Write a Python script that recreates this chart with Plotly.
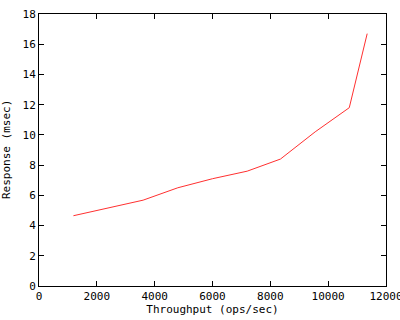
import plotly.graph_objects as go

throughput = [1190, 3600, 4800, 6000, 7200, 8350, 9550, 10730, 11350]
response = [4.65, 5.68, 6.5, 7.1, 7.6, 8.4, 10.2, 11.8, 16.7]

x_ticks = [0, 2000, 4000, 6000, 8000, 10000, 12000]
y_ticks = [0, 2, 4, 6, 8, 10, 12, 14, 16, 18]

font = dict(family="DejaVu Sans Mono, Liberation Mono, monospace", size=11, color="black")

fig = go.Figure()
fig.add_trace(go.Scatter(x=throughput, y=response, mode="lines",
                         line=dict(color="#ff3030", width=1), showlegend=False))

axis_common = dict(showline=True, linecolor="black", linewidth=1, mirror="allticks",
                   ticks="inside", ticklen=5, tickcolor="black", tickwidth=1,
                   showgrid=False, zeroline=False, tickfont=font, automargin=False,
                   ticklabeloverflow="allow")

fig.update_layout(
    width=400, height=320,
    margin=dict(l=39, r=14, t=14, b=34),
    paper_bgcolor="white", plot_bgcolor="white",
    font=font,
    xaxis=dict(range=[0, 12000], tickvals=x_ticks, ticktext=[str(v) for v in x_ticks],
               title=dict(text="Throughput (ops/sec)", font=font, standoff=2), **axis_common),
    yaxis=dict(range=[0, 18], tickvals=y_ticks, ticktext=[str(v) for v in y_ticks],
               **axis_common),
    annotations=[dict(text="Response (msec)", xref="paper", yref="paper",
                      x=(6 - 39) / 347, y=0.5, xanchor="center", yanchor="middle",
                      textangle=-90, showarrow=False, font=font)],
)

fig.write_html("out.html")
